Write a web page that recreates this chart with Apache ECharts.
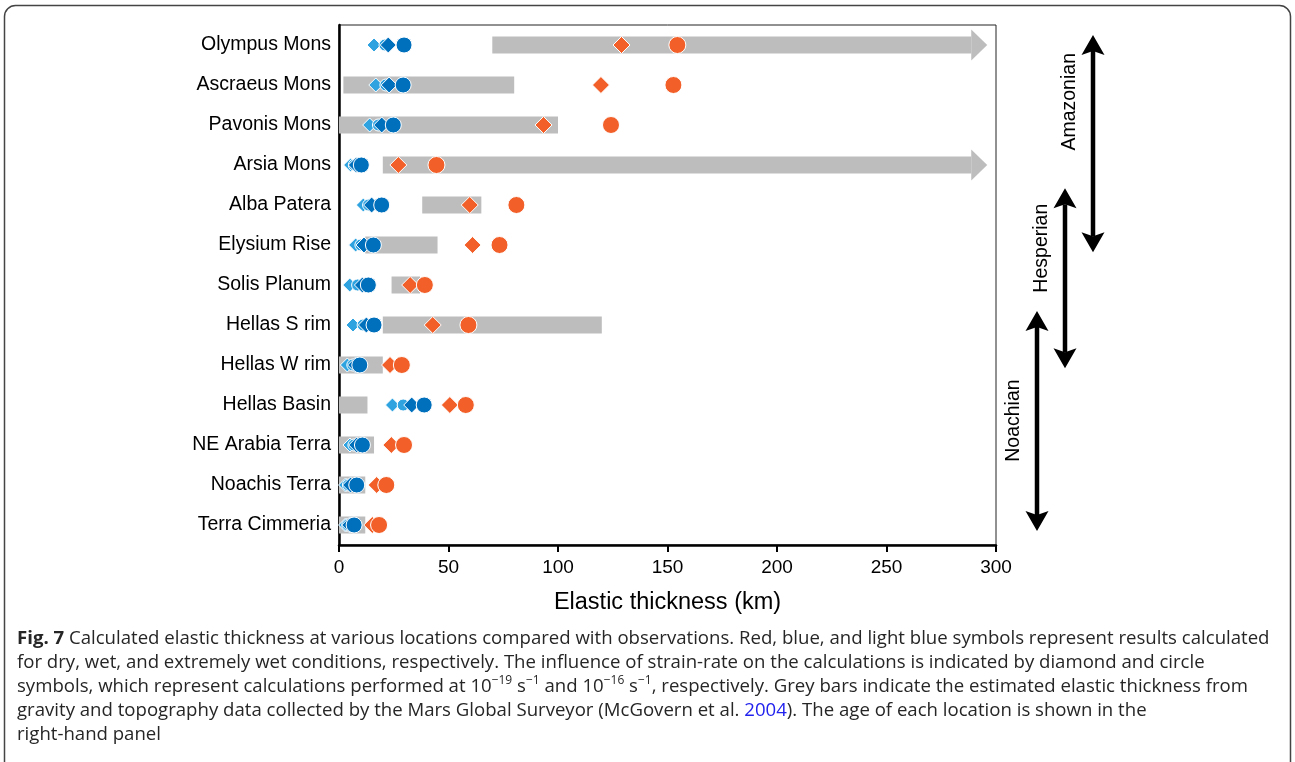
<!DOCTYPE html>
<html>
<head>
<meta charset="utf-8">
<script src="https://cdn.jsdelivr.net/npm/echarts@6/dist/echarts.min.js"></script>
<style>
html,body{margin:0;padding:0;background:#fff;}
#chart{width:1295px;height:762px;}
</style>
</head>
<body>
<div id="chart"></div>
<script>
// ---------------- data ----------------
const categories = ['Olympus Mons','Ascraeus Mons','Pavonis Mons','Arsia Mons','Alba Patera','Elysium Rise','Solis Planum','Hellas S rim','Hellas W rim','Hellas Basin','NE Arabia Terra','Noachis Terra','Terra Cimmeria'];
// grey bars: observed elastic thickness ranges (km); open = range continues beyond (arrow)
const obsStart = [70, 2, 0, 20, 38, 12, 24, 20, 0, 0, 0, 0, 0];
const obsEnd   = [296, 80, 100, 296, 65, 45, 37, 120, 20, 13, 16, 12, 12];
const obsOpen  = [1, 0, 0, 1, 0, 0, 0, 0, 0, 0, 0, 0, 0];
// calculated elastic thickness (km)
const xwetSlow = [16, 16.8, 14, 5.3, 11.1, 7.6, 4.9, 6.4, 3.8, 24.4, 5, 3, 3];          // extremely wet, 1e-19 (diamond)
const xwetFast = [21, 21.4, 18, 7, 13.5, 10, 8.5, 11, 6.3, 29.3, 6.8, 4.3, 4];           // extremely wet, 1e-16 (circle)
const wetSlow  = [22.5, 22.9, 19.5, 7.9, 14.9, 11.4, 10.7, 12.5, 7.6, 33.2, 8.1, 5.3, 4.9];
const wetFast  = [29.7, 29.3, 24.8, 10.2, 19.5, 15.7, 13.4, 16, 9.5, 38.9, 10.7, 8.1, 6.9];
const drySlow  = [129, 119.6, 93.4, 27.1, 59.7, 61, 32.5, 42.8, 23.3, 50.6, 23.9, 17.2, 15.2];
const dryFast  = [154.5, 152.7, 124.2, 44.5, 81, 73.3, 39.2, 59.1, 28.7, 57.9, 29.7, 21.6, 18.3];
const xTicks = [0, 50, 100, 150, 200, 250, 300];
// geological ages: span in row units (0 = first row)
const ageNames = ['Noachian', 'Hesperian', 'Amazonian'];
const ageColumn = [0.5, 1.5, 2.5];
const ageFrom = [6.65, 3.58, -0.25];
const ageTo = [12.15, 8.08, 5.18];

// ---------------- chart ----------------
const FONT = '"Liberation Sans", Arial, Helvetica, sans-serif';
const CAP = '"Open Sans", Lato, sans-serif';
const ageLabelRow = {Noachian: 9.39, Hesperian: 5.08, Amazonian: 1.42};
const chart = echarts.init(document.getElementById('chart'), null, {renderer: 'canvas'});

function scatterData(arr) { return arr.map((v, i) => [v, i]); }
function sc(name, arr, color, symbol, size) {
  return {
    name, type: 'scatter', xAxisIndex: 0, yAxisIndex: 0,
    data: scatterData(arr), symbol, symbolSize: size,
    itemStyle: {color, borderColor: '#fff', borderWidth: 1, opacity: 1},
    emphasis: {disabled: true}, silent: true
  };
}

const option = {
  animation: false,
  textStyle: {fontFamily: FONT},
  grid: [
    {left: 339, top: 25, width: 657, height: 520, show: true, borderColor: '#222', borderWidth: 1, backgroundColor: 'transparent'},
    {left: 1023, top: 25, width: 84, height: 520, show: false}
  ],
  xAxis: [
    {type: 'value', gridIndex: 0, min: 0, max: 300, interval: 50,
      axisLine: {show: true, onZero: false, lineStyle: {color: '#000', width: 2.5}},
      axisTick: {show: true, inside: false, length: 7, lineStyle: {color: '#000', width: 2}},
      axisLabel: {color: '#000', fontSize: 19, margin: 13, fontFamily: FONT,
        formatter: v => xTicks.includes(v) ? String(v) : ''},
      splitLine: {show: false},
      name: 'Elastic thickness (km)', nameLocation: 'middle', nameGap: 46,
      nameTextStyle: {color: '#000', fontSize: 23.5, fontFamily: FONT}},
    {type: 'value', gridIndex: 1, min: 0, max: 3, show: false}
  ],
  yAxis: [
    {type: 'category', gridIndex: 0, data: categories, inverse: true,
      axisLine: {show: true, lineStyle: {color: '#000', width: 2.5}},
      axisTick: {show: false},
      axisLabel: {color: '#000', fontSize: 19.5, margin: 8, fontFamily: FONT},
      splitLine: {show: false}},
    {type: 'value', gridIndex: 1, min: -0.5, max: 12.5, inverse: true, show: false}
  ],
  series: [
    {
      type: 'custom', xAxisIndex: 0, yAxisIndex: 0, silent: true,
      data: categories.map((c, i) => [i, obsStart[i], obsEnd[i], obsOpen[i]]),
      encode: {x: [1, 2], y: 0},
      renderItem: function (params, api) {
        const idx = api.value(0);
        const p0 = api.coord([api.value(1), idx]);
        const p1 = api.coord([api.value(2), idx]);
        const h = 17;
        const open = api.value(3);
        const color = '#bdbdbd';
        if (!open) {
          return {type: 'rect', shape: {x: p0[0], y: p0[1] - h / 2, width: p1[0] - p0[0], height: h},
            style: {fill: color}};
        }
        const headLen = 16, headHalf = 15.5;
        return {type: 'group', children: [
          {type: 'rect', shape: {x: p0[0], y: p0[1] - h / 2, width: p1[0] - headLen - p0[0], height: h}, style: {fill: color}},
          {type: 'polygon', shape: {points: [[p1[0] - headLen, p1[1] - headHalf], [p1[0], p1[1]], [p1[0] - headLen, p1[1] + headHalf]]}, style: {fill: color}}
        ]};
      }
    },
    sc('Extremely wet 1e-19', xwetSlow, '#2ea3e0', 'diamond', [14, 14]),
    sc('Extremely wet 1e-16', xwetFast, '#2ea3e0', 'circle', 12),
    sc('Wet 1e-19', wetSlow, '#0070bd', 'diamond', [16, 16]),
    sc('Wet 1e-16', wetFast, '#0070bd', 'circle', 16),
    sc('Dry 1e-19', drySlow, '#f25f28', 'diamond', [17, 17]),
    sc('Dry 1e-16', dryFast, '#f25f28', 'circle', 17),
    {
      type: 'custom', xAxisIndex: 1, yAxisIndex: 1, silent: true,
      data: ageNames.map((n, i) => [ageColumn[i], ageFrom[i], ageTo[i], n]),
      encode: {x: 0, y: [1, 2]},
      renderItem: function (params, api) {
        const name = ageNames[params.dataIndex];
        const top = api.coord([api.value(0), api.value(1)]);
        const bot = api.coord([api.value(0), api.value(2)]);
        const lab = api.coord([api.value(0), ageLabelRow[name]]);
        const x = top[0];
        const hl = 20, hw = 11.5, notch = 4;
        return {type: 'group', children: [
          {type: 'line', shape: {x1: x, y1: top[1] + hl - notch, x2: x, y2: bot[1] - hl + notch}, style: {stroke: '#000', lineWidth: 4.5}},
          {type: 'polygon', shape: {points: [[x, top[1]], [x + hw, top[1] + hl], [x, top[1] + hl - notch], [x - hw, top[1] + hl]]}, style: {fill: '#000'}},
          {type: 'polygon', shape: {points: [[x, bot[1]], [x + hw, bot[1] - hl], [x, bot[1] - hl + notch], [x - hw, bot[1] - hl]]}, style: {fill: '#000'}},
          {type: 'text', x: x - 23, y: lab[1], rotation: Math.PI / 2,
            style: {text: name, fill: '#000', font: '19.5px ' + FONT, align: 'center', verticalAlign: 'middle'}}
        ]};
      }
    }
  ],
  graphic: [
    {type: 'rect', silent: true, z: -10, shape: {x: 4.5, y: 5.5, width: 1286, height: 820, r: 11},
      style: {fill: 'none', stroke: '#444', lineWidth: 1.5}},
    {type: 'text', silent: true, left: 17, top: 627,
      style: {
        text: '{b|Fig. 7} Calculated elastic thickness at various locations compared with observations. Red, blue, and light blue symbols represent results calculated\n' +
              'for dry, wet, and extremely wet conditions, respectively. The influence of strain-rate on the calculations is indicated by diamond and circle\n' +
              'symbols, which represent calculations performed at 10{sup|\u221219} s{sup|\u22121} and 10{sup|\u221216} s{sup|\u22121}, respectively. Grey bars indicate the estimated elastic thickness from\n' +
              'gravity and topography data collected by the Mars Global Surveyor (McGovern et al. {link|2004}). The age of each location is shown in the\n' +
              'right-hand panel',
        font: '18.6px ' + CAP,
        fill: '#262626',
        lineHeight: 24,
        rich: {
          b: {fontWeight: 'bold', fontSize: 18.6, fontFamily: CAP, fill: '#262626', lineHeight: 24},
          sup: {fontSize: 12, fontFamily: CAP, fill: '#262626', lineHeight: 15, verticalAlign: 'top'},
          link: {fontSize: 18.6, fontFamily: CAP, fill: '#2222ee', lineHeight: 24}
        }
      }}
  ]
};
chart.setOption(option);
</script>
</body>
</html>
